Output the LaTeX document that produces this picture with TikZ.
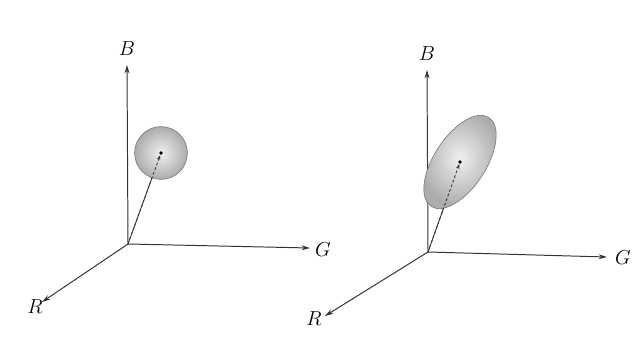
\documentclass[tikz,border=0pt]{standalone}
\usetikzlibrary{arrows.meta,shapes.geometric}

\begin{document}
\begin{tikzpicture}[
      x=0.025cm,y=0.025cm,
      axis/.style={-{Stealth[length=6pt,width=3.5pt]},line width=0.7pt,black!80},
      axislabel/.style={font=\fontsize{15}{17}\selectfont,inner sep=1pt},
      blob/.style={draw=black!55,thin,inner sep=0pt,inner color=gray!12,outer color=gray!65},
      centredot/.style={circle,fill=black,inner sep=0pt,minimum size=2.8pt},
      meanline/.style={line width=0.6pt,black!80},
      innerline/.style={meanline,dash pattern=on 2pt off 1.5pt,-{Stealth[length=3.5pt,width=2.5pt]}}
    ]
    \useasboundingbox[fill=white] (0,0) rectangle (636,344);

    % left: sphere
    \coordinate (oL) at (128,100);
    \coordinate (bL) at (127,279);
    \coordinate (gL) at (310,96);
    \coordinate (rL) at (42,42);
    \node[axislabel] (labBL) at (127,295) {$B$};
    \node[axislabel] (labGL) at (323,94) {$G$};
    \node[axislabel] (labRL) at (35,37) {$R$};
    \draw[axis] (oL) -- (bL);
    \draw[axis] (oL) -- (gL);
    \draw[axis] (oL) -- (rL);
    \node[blob,circle,minimum size=1.32cm] (ball) at (161,191) {};
    \node[centredot] (ballc) at (ball.center) {};
    \draw[meanline] (oL) -- (ball);
    \draw[innerline] (oL) -- (ballc);

    % right: ellipsoid
    \coordinate (oR) at (428,92);
    \coordinate (bR) at (427,274);
    \coordinate (gR) at (607,87);
    \coordinate (rR) at (325,28);
    \node[axislabel] (labBR) at (427,290) {$B$};
    \node[axislabel] (labGR) at (623,86) {$G$};
    \node[axislabel] (labRR) at (314,25) {$R$};
    \draw[axis] (oR) -- (bR);
    \draw[axis] (oR) -- (gR);
    \draw[axis] (oR) -- (rR);
    \node[blob,ellipse,rotate=57,minimum width=2.65cm,minimum height=1.3cm] (ell) at (460,182) {};
    \node[centredot] (ellc) at (ell.center) {};
    \draw[meanline] (oR) -- (ell);
    \draw[innerline] (oR) -- (ellc);
  \end{tikzpicture}
\end{document}
